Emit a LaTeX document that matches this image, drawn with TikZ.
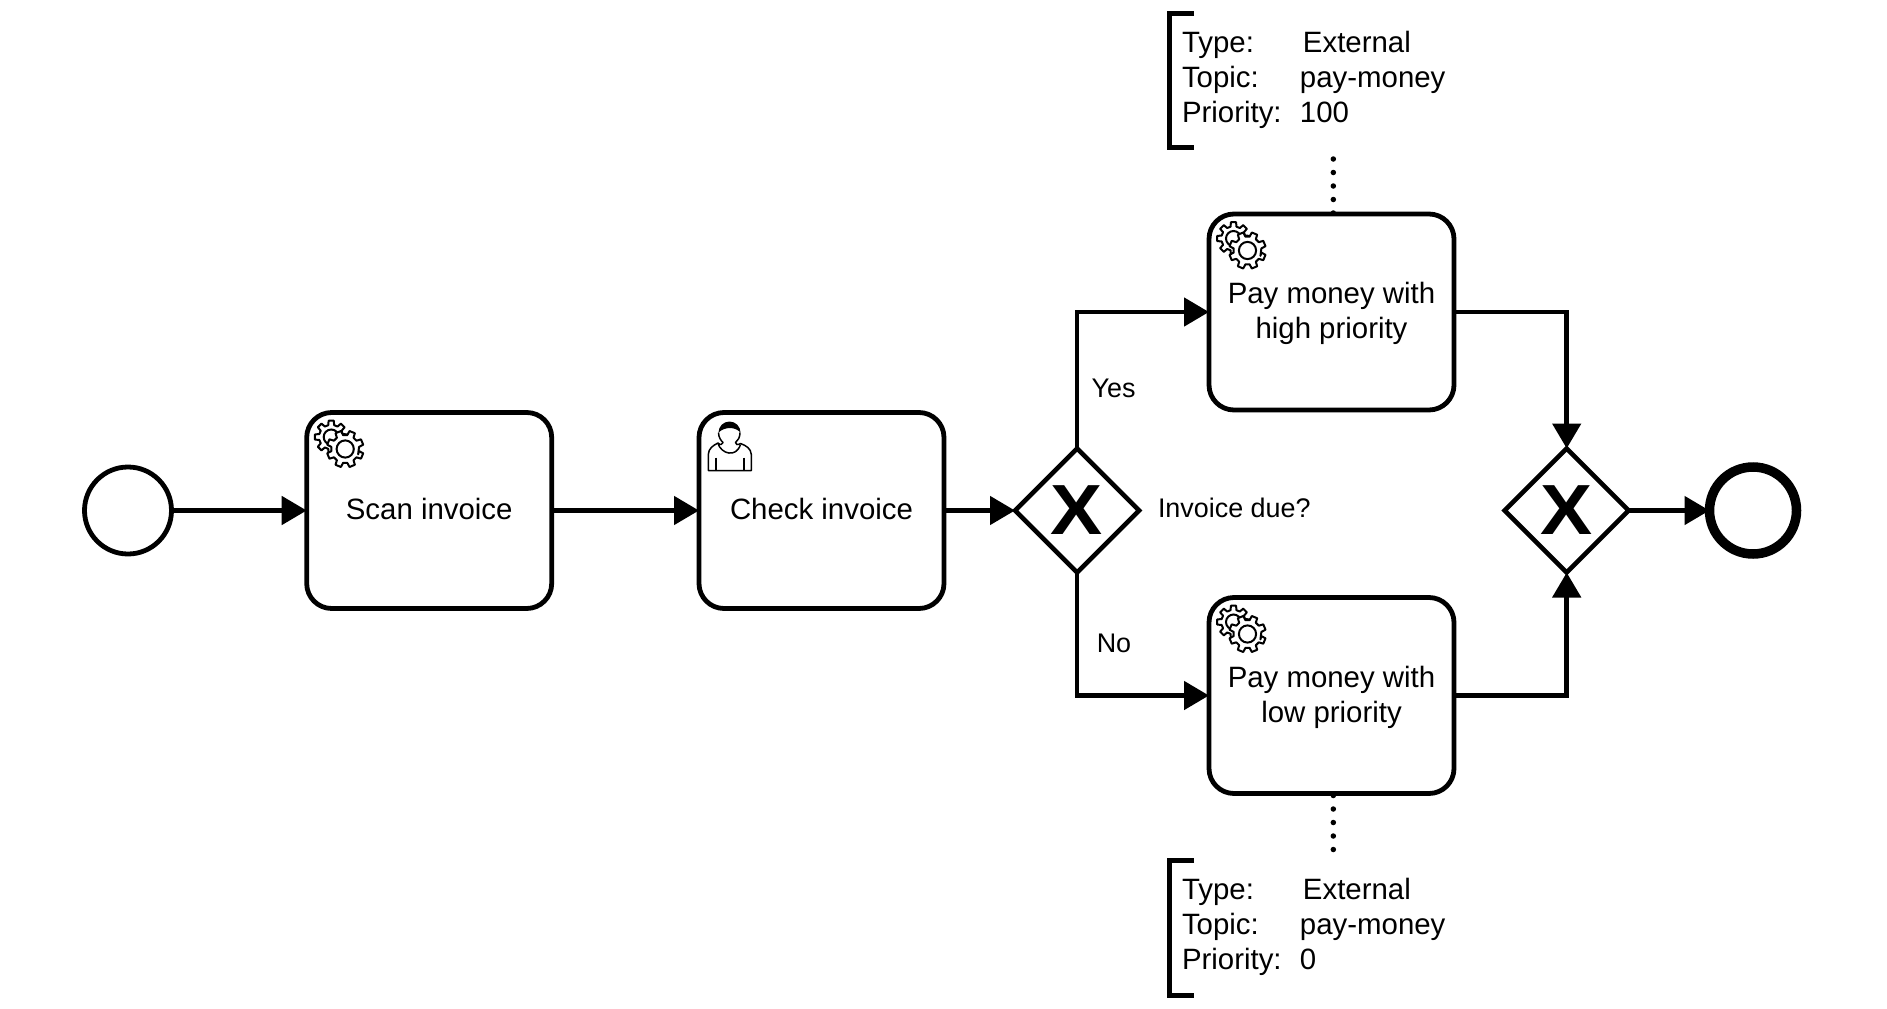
\documentclass[tikz,border=0pt]{standalone}
\usepackage{fontspec}
\setmainfont{Liberation Sans}
\usepackage{tikz}
\usetikzlibrary{arrows.meta,shapes.geometric}

\begin{document}
\begin{tikzpicture}[
                x=1pt,y=-1pt,
                every node/.style={inner sep=0pt,outer sep=0pt},
                task/.style={draw,rectangle,rounded corners=25pt,line width=4.8pt,
                    minimum width=245pt,minimum height=196pt,align=center,text depth=3pt,
                    font=\fontsize{29.4}{35}\selectfont},
                gateway/.style={draw,diamond,aspect=1,line width=4.6pt,minimum size=124pt,
                    font=\fontsize{71}{71}\selectfont\bfseries},
                startevent/.style={draw,circle,line width=4.8pt,minimum size=87pt},
                endevent/.style={draw,circle,line width=9.5pt,minimum size=87pt},
                flowlabel/.style={font=\fontsize{26.9}{31}\selectfont},
                notetext/.style={anchor=base west,align=left,font=\fontsize{29.4}{35}\selectfont},
                flow/.style={line width=4.8pt,-{Triangle[length=25pt,width=28pt]}},
                notebracket/.style={line width=5pt},
                noteline/.style={line width=5.5pt,line cap=round,dash pattern=on 0pt off 13.5pt},
                geartooth/.style={draw,fill=white,line width=2pt,line join=round},
                gearicon/.pic={
                    \begin{scope}[shift={(24.5,24.5)}]
                        \draw[geartooth] (0:12.2) foreach \a in {0,45,...,315}{
                            -- (\a-14:12.2) -- (\a-9:16.5) -- (\a+9:16.5) -- (\a+14:12.2)} -- cycle;
                        \draw[line width=2pt] (0,0) circle (7.5);
                    \end{scope}
                    \begin{scope}[shift={(38.5,36.5)}]
                        \draw[geartooth] (22.5:14) foreach \a in {22.5,67.5,...,337.5}{
                            -- (\a-14:14) -- (\a-9:18.5) -- (\a+9:18.5) -- (\a+14:14)} -- cycle;
                        \draw[line width=2pt] (0,0) circle (8.6);
                    \end{scope}
                },
                personicon/.pic={
                    \fill (19.5,20) arc (180:360:11) .. controls (36,14) and (26,14) .. (19.5,20) -- cycle;
                    \draw[line width=1.5pt,line join=round] (19.5,20) .. controls (19.5,25) and (22,28) .. (24,30)
                        .. controls (24,32) and (21,33) .. (19,30.5)
                        .. controls (14,33) and (9.5,36) .. (9.3,42) -- (9.3,58) -- (52.3,58) -- (52.3,42)
                        .. controls (52,36) and (47,33) .. (41.5,31)
                        .. controls (39,33) and (36,32) .. (36.5,30)
                        .. controls (39,28) and (41,25) .. (41,20);
                    \draw[line width=1.5pt] (19,31) .. controls (22,41) and (37,46) .. (41.5,32);
                    \draw[line width=1.5pt] (17,45) -- (17,58) (45,45) -- (45,58);
                }
            ]
                \useasboundingbox (0,0) rectangle (1887,1009);

                \node[startevent] (start) at (128,510.5) {};
                \node[task] (scan) at (429.2,510.5) {Scan invoice};
                \node[task] (check) at (821.5,510.5) {Check invoice};
                \node[gateway] (split) at (1077,510.5) {\scalebox{1.1}[1]{X}};
                \node[task] (high) at (1331.5,312) {Pay money with\\high priority};
                \node[task] (low) at (1331.5,695.5) {Pay money with\\low priority};
                \node[gateway] (join) at (1566.7,510.5) {\scalebox{1.1}[1]{X}};
                \node[endevent] (finish) at (1753,510.5) {};

                \pic at (scan.north west) {gearicon};
                \pic at (check.north west) {personicon};
                \pic at (high.north west) {gearicon};
                \pic at (low.north west) {gearicon};

                \node[flowlabel] (yes) at (1113.5,388) {Yes};
                \node[flowlabel] (no) at (1114,643) {No};
                \node[flowlabel,anchor=west] (due) at (1158,508) {Invoice due?};

                \node[notetext] (notehigh) at (1182,122) {\makebox[121pt][l]{Type:}External\\
                    \makebox[118pt][l]{Topic:}pay-money\\\makebox[118pt][l]{Priority:}100};
                \node[notetext] (notelow) at (1182,969) {\makebox[121pt][l]{Type:}External\\
                    \makebox[118pt][l]{Topic:}pay-money\\\makebox[118pt][l]{Priority:}0};

                \draw[notebracket] (1194,13) -- (1169.5,13) -- (1169.5,147.7) -- (1194,147.7);
                \draw[notebracket] (1194,860.7) -- (1169.5,860.7) -- (1169.5,995.7) -- (1194,995.7);

                \coordinate (dotshigh) at (1333.3,159);
                \coordinate (dotslow) at (1333.3,849.5);
                \draw[noteline] (dotshigh) -- (dotshigh |- high.north);
                \draw[noteline] (dotslow) -- (dotslow |- low.south);

                \draw[flow] (start) -- (scan);
                \draw[flow] (scan) -- (check);
                \draw[flow] (check) -- (split);
                \draw[flow] (split.north) |- (high.west);
                \draw[flow] (split.south) |- (low.west);
                \draw[flow] (high.east) -| (join.north);
                \draw[flow] (low.east) -| (join.south);
                \draw[flow] (join) -- (finish);
            \end{tikzpicture}
\end{document}
